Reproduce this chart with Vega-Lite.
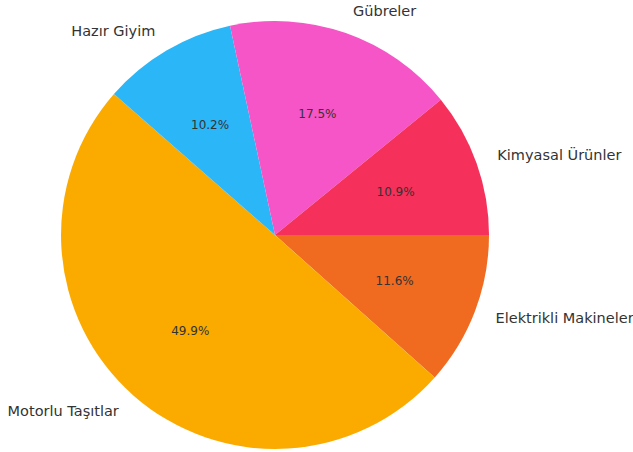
{
  "$schema": "https://vega.github.io/schema/vega-lite/v6.json",
  "width": 550,
  "height": 434,
  "padding": {"left": 0, "right": 83, "top": 18, "bottom": 0},
  "autosize": "none",
  "background": "white",
  "view": {"stroke": null},
  "data": {
    "values": [
      {"kategori": "Elektrikli Makineler", "pay": 0.116, "sira": 1},
      {"kategori": "Motorlu Taşıtlar", "pay": 0.499, "sira": 2},
      {"kategori": "Hazır Giyim", "pay": 0.102, "sira": 3},
      {"kategori": "Gübreler", "pay": 0.175, "sira": 4},
      {"kategori": "Kimyasal Ürünler", "pay": 0.109, "sira": 5}
    ]
  },
  "encoding": {
    "theta": {"field": "pay", "type": "quantitative", "stack": true, "scale": {"range": [1.5707963, 7.8539816]}},
    "order": {"field": "sira", "type": "quantitative"}
  },
  "layer": [
    {
      "mark": {"type": "arc", "radius": 214, "stroke": null},
      "encoding": {
        "color": {
          "field": "kategori",
          "type": "nominal",
          "legend": null,
          "scale": {
            "domain": ["Elektrikli Makineler", "Motorlu Taşıtlar", "Hazır Giyim", "Gübreler", "Kimyasal Ürünler"],
            "range": ["#f06a20", "#fbaa00", "#2bb6f8", "#f555c6", "#f5305a"]
          }
        }
      }
    },
    {
      "mark": {"type": "text", "radius": 128, "font": "DejaVu Sans", "fontSize": 12, "color": "#333333", "baseline": "middle", "align": "center"},
      "encoding": {"text": {"field": "pay", "type": "quantitative", "format": ".1%"}}
    },
    {
      "mark": {
        "type": "text",
        "radius": 236,
        "font": "DejaVu Sans",
        "fontSize": 14.5,
        "color": "#333333",
        "baseline": "middle",
        "align": {"expr": "(datum.kategori == 'Hazır Giyim' || datum.kategori == 'Motorlu Taşıtlar') ? 'right' : 'left'"}
      },
      "encoding": {"text": {"field": "kategori", "type": "nominal"}}
    }
  ]
}
